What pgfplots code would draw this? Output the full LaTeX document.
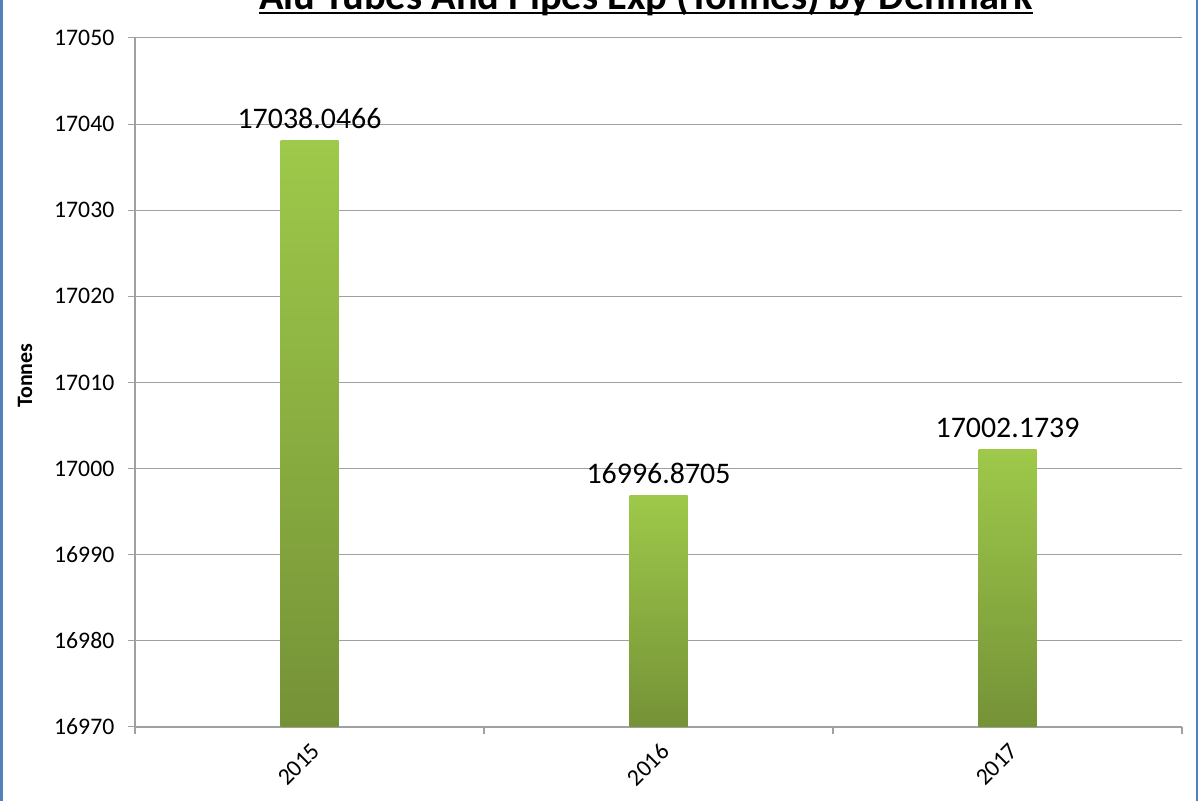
\documentclass[border=0pt]{standalone}
\usepackage{pgfplots}
\pgfplotsset{compat=1.18}
\usepackage{fontspec}
\setmainfont{Carlito}
\begin{document}
\begin{tikzpicture}
\definecolor{barTop}{RGB}{158,201,74}
\definecolor{barBottom}{RGB}{117,146,55}
\definecolor{gridGray}{RGB}{160,160,160}
\definecolor{frameBlue}{RGB}{79,129,189}
    \begin{axis}[
    at={(2.7cm,1.46cm)},
    anchor=south west,
    scale only axis,
    width=20.94cm,
    height=13.78cm,
    ybar,
    bar width=1.16cm,
    ymin=16970,
    ymax=17050,
    ytick distance=10,
    scaled y ticks=false,
    yticklabel={\pgfmathprintnumber[fixed,precision=0,1000 sep={}]{\tick}},
    xmin=-0.5,
    xmax=2.5,
    xtick={0,1,2},
    xticklabels={2015,2016,2017},
    minor xtick={-0.5,0.5,1.5,2.5},
    major x tick style={draw=none},
    axis x line*=bottom,
    axis y line*=left,
    axis line style={gridGray,line width=0.6pt},
    every tick/.style={gridGray,line width=0.6pt},
    tick align=outside,
    major tick length=0.14cm,
    minor tick length=0.14cm,
    ymajorgrids,
    major grid style={gridGray,line width=0.6pt},
    /pgf/number format/assume math mode=true,
    /pgf/number format/1000 sep={},
    yticklabel style={font=\fontsize{13.5}{16}\selectfont,xshift=-0.15cm},
    xticklabel style={font=\fontsize{13.5}{16}\selectfont,xshift=0.02cm,yshift=0.02cm,rotate=45,anchor=north east},
    ylabel={\textbf{Tonnes}},
    ylabel style={font=\fontsize{12.5}{15}\selectfont,at={(axis description cs:-0.105,0.51)},anchor=center},
    nodes near coords,
    nodes near coords style={font=\fontsize{17}{20}\selectfont,black,yshift=0.12cm,
        /pgf/number format/fixed,/pgf/number format/precision=4,/pgf/number format/fixed zerofill},
    ]
    \addplot[bar shift=0pt,draw=none,top color=barTop,bottom color=barBottom] coordinates {(0,17038.0466)};
    \addplot[bar shift=0pt,draw=none,top color=barTop,bottom color=barBottom] coordinates {(1,16996.8705)};
    \addplot[bar shift=0pt,draw=none,top color=barTop,bottom color=barBottom] coordinates {(2,17002.1739)};
    \end{axis}
    % title, cut at the top edge as in the source
    \node[anchor=base,inner sep=0pt] (title) at (12.92cm,15.8cm) {\fontsize{23}{27}\selectfont\bfseries Alu Tubes And Pipes Exp (Tonnes) by Denmark};
    \draw[black,line width=1.1pt] (title.west |- 0,15.74cm) -- (title.east |- 0,15.74cm);
    \draw[frameBlue,line width=1.2pt] (0.03cm,-1cm) -- (0.03cm,17cm);
    \draw[frameBlue,line width=1.2pt] (23.94cm,-1cm) -- (23.94cm,17cm);
    \pgfresetboundingbox
    \path (0,0) rectangle (24cm,16cm);
\end{tikzpicture}
\end{document}
